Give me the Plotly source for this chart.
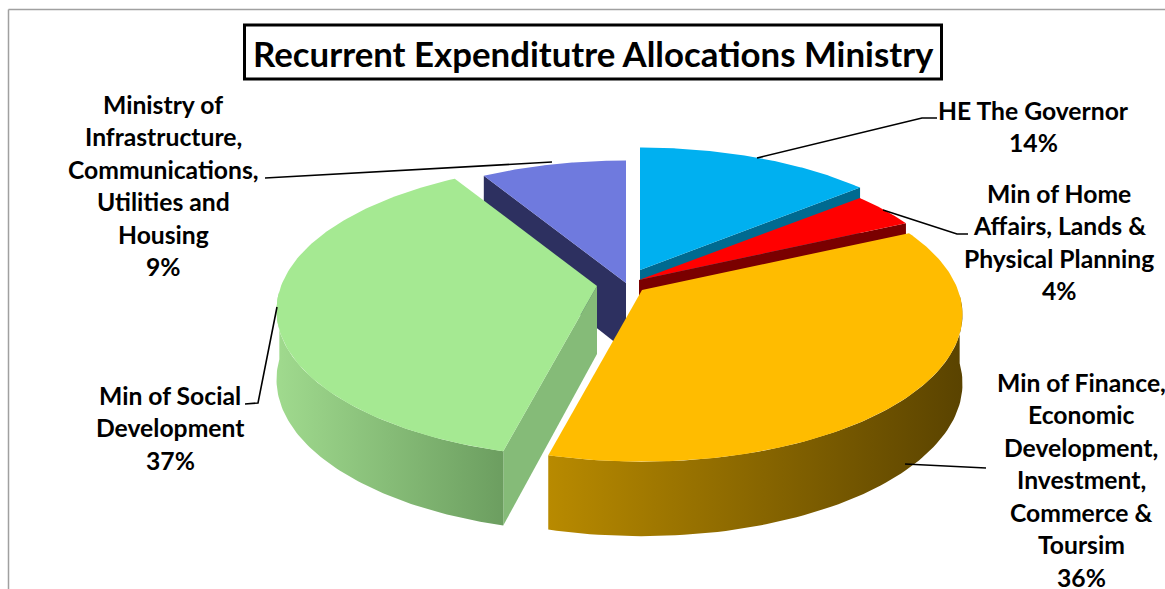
import numpy as np
import plotly.graph_objects as go

# ---- data ----
categories = [
    "HE The Governor",
    "Min of Home<br>Affairs, Lands &<br>Physical Planning",
    "Min of Finance,<br>Economic<br>Development,<br>Investment,<br>Commerce &<br>Toursim",
    "Min of Social<br>Development",
    "Ministry of<br>Infrastructure,<br>Communications,<br>Utilities and<br>Housing",
]
values = [14.0, 4.0, 36.0, 37.4, 8.6]
title_text = "Recurrent Expenditutre Allocations Ministry"

# ---- styling ----
top_colors = ["#00B0F0", "#FF0000", "#FFBC00", "#A5E992", "#6F7ADE"]
face_colors = ["#006A90", "#7A0000", "#7A5900", "#85BB78", "#2D3060"]
rim_gradients = [None, None, ("#B88A00", "#5A4300"), ("#A0DA8E", "#6C9E60"), None]
apex = [(640, 270), (639, 280), (642, 290), (597, 286), (626, 283)]
draw_order = [4, 0, 1, 2, 3]
label_pos = [(1033, 110), (1059, 193), (1081, 382), (170, 395), (163, 104)]
leaders = [
    [(757, 158), (922, 118), (937, 118)],
    [(883, 210), (957, 234), (968, 234)],
    [(905, 464), (986, 468)],
    [(277, 307), (258, 403), (245, 404)],
    [(552, 162), (265, 178)],
]
A, B, K, DEPTH = 316.0, 143.0, 0.167, 68.0
LINE_STEP = 32.5
FONT = "Lato"
LABEL_SIZE = 24.7


def project(theta_deg, r, centre):
    t = np.radians(theta_deg)
    u, v = r * np.sin(t), r * np.cos(t)
    w = 1 + K * v
    return centre[0] + A * u / w, centre[1] - B * v / w, DEPTH / np.sqrt(w)


def poly(fig, xs, ys, color=None, grad=None):
    kw = dict(fillcolor=color)
    if grad:
        kw = dict(fillgradient=dict(type="horizontal",
                                    colorscale=[[0, grad[0]], [1, grad[1]]]))
    fig.add_trace(go.Scatter(x=xs, y=ys, mode="lines", fill="toself",
                             line=dict(width=0), hoverinfo="skip",
                             showlegend=False, **kw))


fig = go.Figure()
total = sum(values)
edges = np.concatenate([[0], np.cumsum(values)]) / total * 360

for i in draw_order:
    c = apex[i]
    a, b = edges[i], edges[i + 1]
    xa, ya, da = project(a, 1, c)
    xb, yb, db = project(b, 1, c)
    # cut face
    if b < 180:
        poly(fig, [c[0], xb, xb, c[0]], [c[1], yb, yb + db, c[1] + DEPTH], face_colors[i])
    if a > 180:
        poly(fig, [c[0], xa, xa, c[0]], [c[1], ya, ya + da, c[1] + DEPTH], face_colors[i])
    # rim wall
    lo, hi = max(a, 92), min(b, 268)
    if rim_gradients[i] is not None and hi > lo:
        th = np.linspace(lo, hi, 80)
        x, y, d = project(th, 1, c)
        xs = np.concatenate([x, x[::-1]])
        ys = np.concatenate([y, (y + d)[::-1]])
        poly(fig, xs, ys, grad=rim_gradients[i])
    # top face
    th = np.linspace(a, b, 120)
    x, y, _ = project(th, 1, c)
    poly(fig, np.concatenate([[c[0]], x]), np.concatenate([[c[1]], y]), top_colors[i])

# leader lines
for pts in leaders:
    fig.add_trace(go.Scatter(x=[p[0] for p in pts], y=[p[1] for p in pts], mode="lines",
                             line=dict(color="#000000", width=1.6), hoverinfo="skip",
                             showlegend=False))

# labels
annotations = []
for cat, val, (cx, y0) in zip(categories, values, label_pos):
    lines = cat.split("<br>") + [f"{round(val / total * 100)}%"]
    for j, ln in enumerate(lines):
        annotations.append(dict(x=cx, y=y0 + j * LINE_STEP, xref="x", yref="y", text=f"<b>{ln}</b>",
                                showarrow=False, xanchor="center", yanchor="middle",
                                font=dict(family=FONT, size=LABEL_SIZE, color="#000000")))
annotations.append(dict(x=593, y=53, xref="x", yref="y", text=f"<b>{title_text}</b>",
                        showarrow=False, xanchor="center", yanchor="middle",
                        font=dict(family=FONT, size=34.8, color="#000000")))

shapes = [
    dict(type="line", x0=8.5, x1=8.5, y0=9.5, y1=589, line=dict(color="#A0A0A0", width=1.5)),
    dict(type="line", x0=8.5, x1=1165, y0=9.5, y1=9.5, line=dict(color="#A0A0A0", width=1.5)),
    dict(type="rect", x0=244.5, x1=941.5, y0=25, y1=79, fillcolor="#FFFFFF",
         line=dict(color="#000000", width=3)),
]

fig.update_layout(
    width=1165, height=589, margin=dict(l=0, r=0, t=0, b=0),
    paper_bgcolor="#FFFFFF", plot_bgcolor="#FFFFFF", showlegend=False,
    xaxis=dict(range=[0, 1165], visible=False, fixedrange=True),
    yaxis=dict(range=[589, 0], visible=False, fixedrange=True),
    annotations=annotations, shapes=shapes,
)
fig.write_html("out.html", config={"displayModeBar": False},
               post_script="document.body.style.margin='0';document.body.style.overflow='hidden';")
